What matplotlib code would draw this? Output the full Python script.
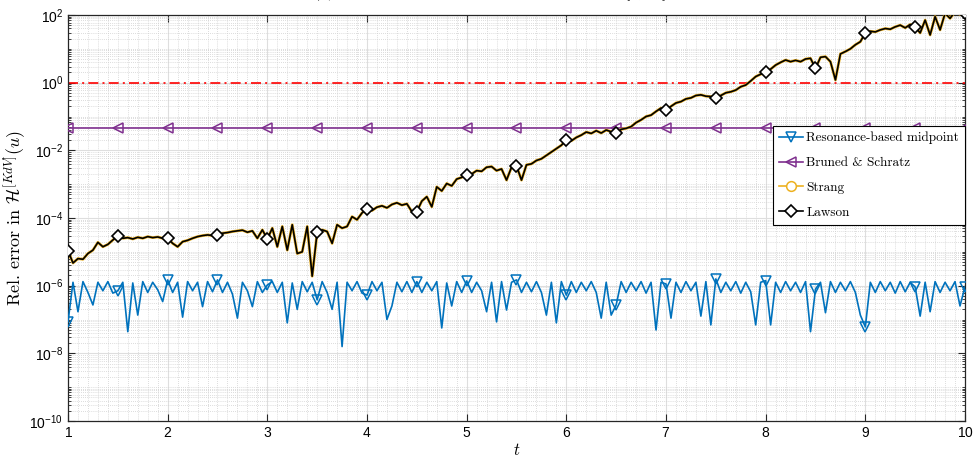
import numpy as np
import matplotlib
matplotlib.use("Agg")
import matplotlib.pyplot as plt
from matplotlib.lines import Line2D
from matplotlib.ticker import FixedLocator, MultipleLocator, LogFormatterSciNotation, NullFormatter

# ---------------------------------------------------------------------------
# Data: log10 of the relative error in the KdV energy, sampled every 0.05 on [1, 10]
# ---------------------------------------------------------------------------
t_first, t_last = 1.0, 10.0

midpoint_log10 = [
    -7.07, -5.90, -6.77, -5.88, -6.20, -6.57, -5.90, -6.15, -5.88, -6.22,
    -6.15, -5.90, -7.36, -5.92, -6.87, -5.88, -6.20, -5.90, -6.12, -6.47,
    -5.83, -6.20, -5.90, -6.93, -5.88, -6.15, -5.90, -6.62, -5.88, -6.18,
    -5.83, -6.20, -5.90, -6.25, -6.96, -5.90, -6.15, -6.62, -5.88, -6.20,
    -5.98, -5.88, -6.20, -5.90, -7.10, -5.92, -6.70, -5.88, -6.18, -5.90,
    -6.42, -5.88, -6.20, -6.70, -5.90, -7.80, -5.90, -6.15, -5.88, -6.22,
    -6.28, -5.88, -6.15, -5.90, -7.00, -6.60, -5.90, -6.18, -5.88, -6.20,
    -5.88, -6.20, -5.90, -6.15, -5.88, -7.25, -5.92, -6.60, -5.88, -6.20,
    -5.86, -6.20, -5.90, -6.15, -6.77, -5.90, -7.07, -5.88, -6.72, -5.90,
    -5.83, -6.20, -5.90, -6.18, -5.88, -6.20, -6.87, -5.90, -7.10, -5.88,
    -6.28, -5.88, -6.20, -5.90, -6.15, -5.88, -6.20, -6.96, -5.90, -6.87,
    -6.57, -5.88, -6.20, -5.90, -6.15, -5.88, -6.22, -5.90, -7.31, -5.90,
    -5.95, -6.96, -5.90, -6.20, -5.88, -6.15, -5.90, -6.90, -5.88, -7.16,
    -5.80, -6.20, -5.90, -6.15, -5.88, -6.22, -5.90, -6.18, -7.16, -5.90,
    -5.85, -7.16, -5.90, -6.20, -5.88, -6.15, -5.90, -6.20, -5.88, -7.36,
    -6.10, -5.90, -6.80, -5.88, -6.20, -5.90, -6.15, -5.88, -6.20, -6.87,
    -7.22, -5.90, -6.20, -5.88, -6.15, -5.90, -6.22, -5.88, -6.18, -5.90,
    -6.04, -6.90, -5.90, -6.77, -5.88, -6.20, -5.90, -6.15, -5.88, -6.60,
    -6.03,
]

lawson_log10 = [
    -4.97, -5.33, -5.20, -5.22, -5.05, -4.95, -4.72, -4.85, -4.78, -4.65,
    -4.53, -4.60, -4.58, -4.62, -4.57, -4.60, -4.55, -4.58, -4.56, -4.60,
    -4.60, -4.75, -4.85, -4.70, -4.66, -4.60, -4.55, -4.52, -4.50, -4.52,
    -4.50, -4.45, -4.43, -4.40, -4.38, -4.36, -4.42, -4.38, -4.60, -4.35,
    -4.62, -4.30, -4.85, -4.25, -4.95, -4.20, -5.05, -5.00, -4.25, -5.72,
    -4.42, -4.35, -4.40, -4.75, -4.20, -4.30, -4.25, -3.96, -4.05, -3.85,
    -3.73, -3.78, -3.68, -3.64, -3.70, -3.60, -3.55, -3.62, -3.58, -3.81,
    -3.81, -3.50, -3.37, -3.67, -3.08, -3.20, -2.98, -3.05, -2.85, -2.80,
    -2.73, -2.70, -2.60, -2.62, -2.50, -2.48, -2.60, -2.55, -2.88, -2.50,
    -2.46, -2.88, -2.43, -2.40, -2.30, -2.25, -2.15, -2.05, -1.95, -1.85,
    -1.70, -1.72, -1.62, -1.55, -1.46, -1.50, -1.42, -1.49, -1.40, -1.45,
    -1.50, -1.38, -1.35, -1.30, -1.18, -1.10, -1.00, -0.96, -0.85, -0.75,
    -0.81, -0.70, -0.60, -0.56, -0.48, -0.45, -0.38, -0.36, -0.40, -0.41,
    -0.44, -0.38, -0.30, -0.27, -0.22, -0.12, -0.07, 0.05, 0.18, 0.25,
    0.31, 0.40, 0.52, 0.60, 0.67, 0.62, 0.66, 0.62, 0.70, 0.72,
    0.42, 0.75, 0.77, 0.62, 0.08, 0.85, 0.92, 1.00, 1.12, 1.21,
    1.47, 1.52, 1.50, 1.56, 1.60, 1.58, 1.65, 1.70, 1.62, 1.72,
    1.65, 1.47, 1.85, 1.41, 1.95, 1.56, 2.05, 1.90, 2.10, 2.02,
    2.05,
]

# Strang and Lawson coincide to plotting accuracy on this interval
strang_log10 = lawson_log10

bruned_schratz_level = 0.046   # constant error level of the Bruned & Schratz scheme
threshold_level = 1.0          # 100 % relative error

labels = ["Resonance-based midpoint", "Bruned & Schratz", "Strang", "Lawson"]
x_ticks = [1, 2, 3, 4, 5, 6, 7, 8, 9, 10]
y_tick_exponents = [-10, -8, -6, -4, -2, 0, 2]

# ---------------------------------------------------------------------------
t = np.linspace(t_first, t_last, len(midpoint_log10))
err_mid = 10.0 ** np.asarray(midpoint_log10)
err_lawson = 10.0 ** np.asarray(lawson_log10)
err_strang = 10.0 ** np.asarray(strang_log10)
err_bs = np.full_like(t, bruned_schratz_level)

c_blue = (0.0, 0.447, 0.741)
c_yellow = (0.929, 0.694, 0.125)
c_purple = (0.494, 0.184, 0.556)
c_axis = (0.15, 0.15, 0.15)

serif = ["cmr10", "DejaVu Serif"]
plt.rcParams["mathtext.fontset"] = "cm"
plt.rcParams["axes.formatter.use_mathtext"] = True
plt.rcParams["font.family"] = ["Liberation Sans Narrow", "Liberation Sans", "DejaVu Sans"]

fig = plt.figure(figsize=(9.78, 4.57), dpi=100)
ax = fig.add_axes([68 / 978, 1 - 421 / 457, (965 - 68) / 978, (421 - 15) / 457])

every = 10
style_mid = dict(color=c_blue, lw=1.2, marker="v", ms=7, mfc="none", mew=1.1)
style_bs = dict(color=c_purple, lw=1.2, marker="<", ms=7, mfc="none", mew=1.1)
style_strang = dict(color=c_yellow, lw=2.0, marker="o", ms=4, mfc="none", mew=1.1)
style_lawson = dict(color="black", lw=1.2, marker="D", ms=6.5, mfc="white", mew=1.2)

ax.plot(t, err_mid, markevery=every, zorder=3, **style_mid)
ax.plot(t, err_bs, markevery=every, zorder=3, **style_bs)
ax.plot(t, err_strang, markevery=every, zorder=4, **style_strang)
ax.plot(t, err_lawson, markevery=every, zorder=5, **style_lawson)
ax.axhline(threshold_level, color=(1.0, 0.0, 0.0), lw=1.2, ls=(0, (6, 2.5, 1.2, 2.5)), zorder=2)

ax.set_yscale("log")
ax.set_xlim(t_first, t_last)
ax.set_ylim(1e-10, 1e2)

ax.xaxis.set_major_locator(FixedLocator(x_ticks))
ax.xaxis.set_minor_locator(MultipleLocator(0.1))
ax.yaxis.set_major_locator(FixedLocator([10.0 ** e for e in y_tick_exponents]))
minor_y = []
for d in range(-10, 2):
    for s in range(1, 10):
        if s == 1 and d in y_tick_exponents:
            continue
        minor_y.append(s * 10.0 ** d)
ax.yaxis.set_minor_locator(FixedLocator(minor_y))
ax.yaxis.set_major_formatter(LogFormatterSciNotation())
ax.yaxis.set_minor_formatter(NullFormatter())

ax.grid(True, which="major", color=(0.87, 0.87, 0.87), lw=0.8, ls="-", zorder=0)
ax.grid(True, which="minor", color=(0.82, 0.82, 0.82), lw=0.6, ls=(0, (1, 1.5)), zorder=0)
ax.set_axisbelow(True)

ax.tick_params(which="both", direction="in", top=True, right=True, colors=c_axis,
               labelcolor="black", labelsize=10)
ax.tick_params(which="major", length=5, width=0.8)
ax.tick_params(axis="y", which="minor", length=2.5, width=0.6)
ax.tick_params(axis="x", which="minor", length=0)
for sp in ax.spines.values():
    sp.set_color(c_axis)
    sp.set_linewidth(0.9)

ax.set_xlabel(r"$t$", fontsize=12)
ax.xaxis.set_label_coords(0.5, -0.052)
ax.set_ylabel(r"Rel. error in $\mathcal{H}^{[KdV]}(u)$", fontsize=13, family=serif)
ax.yaxis.set_label_coords(-0.044, 0.5)

legend_handles = [
    Line2D([], [], **style_mid),
    Line2D([], [], **style_bs),
    Line2D([], [], **dict(style_strang, lw=1.2, ms=7, mfc="white")),
    Line2D([], [], **style_lawson),
]
leg = ax.legend(legend_handles, labels, loc="upper right",
                bbox_to_anchor=(1.0, 0.727), borderaxespad=0.0,
                fancybox=False, framealpha=1.0, edgecolor="black",
                prop={"family": serif, "size": 9.5}, handlelength=1.8,
                labelspacing=0.95, handletextpad=0.25, borderpad=0.45)
leg.get_frame().set_linewidth(0.8)

fig.text(490 / 978, 1.0 - 3.0 / 457,
         r"(b) Long-time energy error of the schemes, $t\in[1,\,10]$",
         ha="center", va="bottom", fontsize=11, family=serif)

fig.savefig("out.png", dpi=100)
